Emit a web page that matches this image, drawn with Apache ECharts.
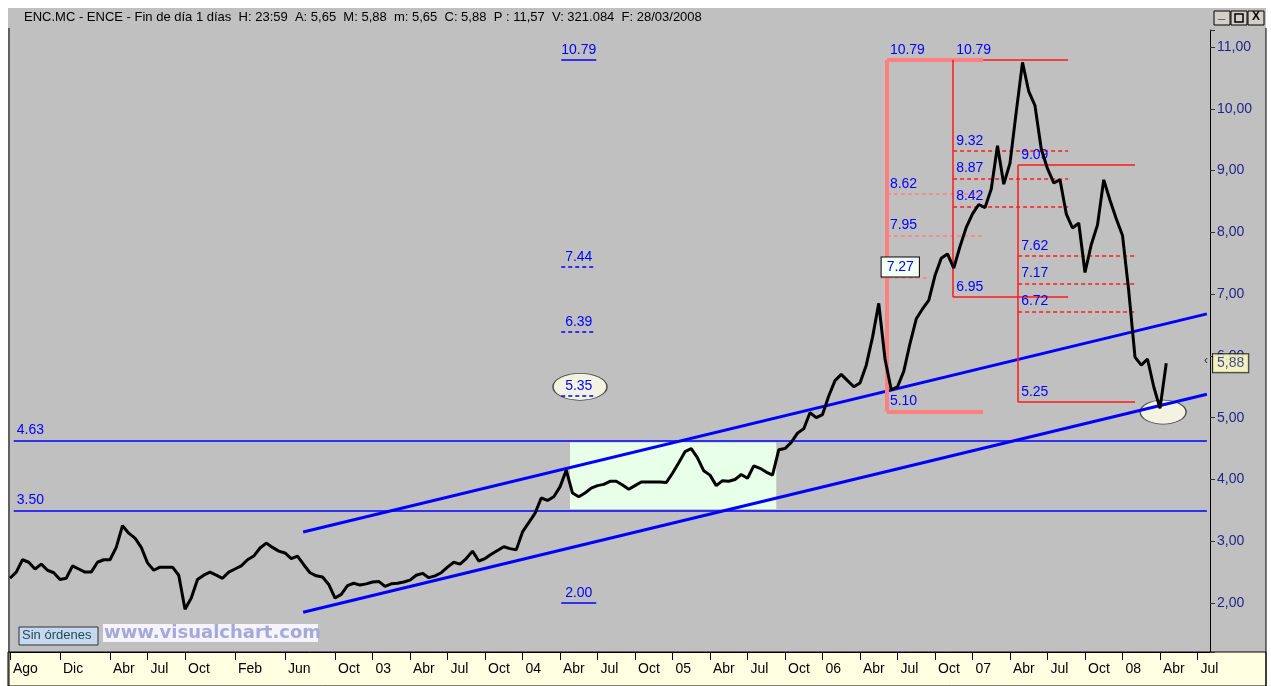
<!DOCTYPE html>
<html>
<head>
<meta charset="utf-8">
<script src="https://cdn.jsdelivr.net/npm/echarts@6/dist/echarts.min.js"></script>
<style>
  html, body { margin: 0; padding: 0; background: #ffffff; }
  #chart { width: 1271px; height: 686px; }
</style>
</head>
<body>
<div id="chart"></div>
<script>
// ENC.MC - cierres quincenales (Ago 2000 -> Mar 2008)
const closes = [
  2.40, 2.50, 2.70, 2.66, 2.55, 2.63, 2.53, 2.49, 2.38, 2.40,
  2.60, 2.55, 2.50, 2.50, 2.66, 2.70, 2.70, 2.90, 3.25, 3.13,
  3.05, 2.90, 2.65, 2.53, 2.58, 2.58, 2.58, 2.45, 1.90, 2.08,
  2.38, 2.45, 2.50, 2.45, 2.40, 2.50, 2.55, 2.60, 2.70, 2.76,
  2.89, 2.97, 2.90, 2.84, 2.81, 2.72, 2.76, 2.62, 2.49, 2.44,
  2.42, 2.30, 2.08, 2.14, 2.28, 2.32, 2.29, 2.31, 2.34, 2.35,
  2.27, 2.31, 2.32, 2.34, 2.37, 2.45, 2.48, 2.41, 2.44, 2.49,
  2.58, 2.66, 2.63, 2.72, 2.84, 2.68, 2.72, 2.79, 2.85, 2.91,
  2.88, 2.86, 3.15, 3.30, 3.45, 3.70, 3.66, 3.72, 3.88, 4.15,
  3.78, 3.72, 3.78, 3.86, 3.90, 3.92, 3.97, 3.97, 3.91, 3.84,
  3.90, 3.96, 3.96, 3.96, 3.96, 3.95, 4.10, 4.27, 4.45, 4.50,
  4.35, 4.14, 4.07, 3.90, 3.98, 3.97, 4.00, 4.08, 4.02, 4.22,
  4.18, 4.12, 4.07, 4.48, 4.50, 4.60, 4.75, 4.82, 5.08, 5.00,
  5.05, 5.35, 5.60, 5.70, 5.60, 5.50, 5.56, 5.85, 6.30, 6.85,
  5.95, 5.45, 5.50, 5.75, 6.20, 6.60, 6.76, 6.90, 7.30, 7.58,
  7.65, 7.42, 7.77, 8.08, 8.30, 8.45, 8.40, 8.70, 9.40, 8.78,
  9.12, 9.95, 10.75, 10.28, 10.05, 9.35, 9.03, 8.80, 8.85, 8.30,
  8.07, 8.15, 7.35, 7.80, 8.12, 8.85, 8.52, 8.22, 7.95, 7.05,
  5.98, 5.85, 5.95, 5.50, 5.15, 5.88
];
const lastClose = 5.88;

// meses del eje (Ago 2000 .. Ago 2008)
const months = [];
for (let k = 0; k <= 96; k++) {
  const m = 7 + k;
  months.push((2000 + Math.floor(m / 12)) + '-' + String(m % 12 + 1).padStart(2, '0'));
}
const tickMonths = ['2000-08', '2000-12', '2001-04', '2001-07', '2001-10', '2002-02', '2002-06', '2002-10',
  '2003-01', '2003-04', '2003-07', '2003-10', '2004-01', '2004-04', '2004-07', '2004-10',
  '2005-01', '2005-04', '2005-07', '2005-10', '2006-01', '2006-04', '2006-07', '2006-10',
  '2007-01', '2007-04', '2007-07', '2007-10', '2008-01', '2008-04', '2008-07'];
const tickNames = ['Ago', 'Dic', 'Abr', 'Jul', 'Oct', 'Feb', 'Jun', 'Oct',
  '03', 'Abr', 'Jul', 'Oct', '04', 'Abr', 'Jul', 'Oct',
  '05', 'Abr', 'Jul', 'Oct', '06', 'Abr', 'Jul', 'Oct',
  '07', 'Abr', 'Jul', 'Oct', '08', 'Abr', 'Jul'];

// niveles dibujados
const supportLevels = [4.63, 3.50];
const projLevels = [10.79, 7.44, 6.39, 5.35, 2.00];
const projDashed = [false, true, true, true, false];
const fib1 = [10.79, 8.62, 7.95, 7.27, 5.10];   // maximo, 38.2, 50, 61.8, minimo
const fib2 = [10.79, 9.32, 8.87, 8.42, 6.95];
const fib3 = [9.09, 7.62, 7.17, 6.72, 5.25];
const channelUp = [3.15, 6.68];
const channelDown = [1.85, 5.38];
const rangeBox = [3.52, 4.60];

// posiciones en quincenas (0 = Ago 2000)
const fullSpan = [0.6, 191.5];
const channelSpan = [46.9, 191.5];
const projSpan = [88.2, 93.8];
const fib1X = [140.3, 155.7, 147.2];
const fib2X = [150.9, 169.3];
const fib3X = [161.3, 180.0];
const boxSpan = [89.6, 122.6];

const BLUE = '#0000ff';
const RED = '#ff1a1a';
const PINK = '#ff8080';
const FONT = 'Arial, "Liberation Sans", sans-serif';

const tickSet = {};
tickMonths.forEach((m, i) => { tickSet[m] = tickNames[i]; });

function seg(x1, y1, x2, y2, style, label) {
  return [
    { coord: [x1, y1], lineStyle: style, label: label || { show: false } },
    { coord: [x2, y2] }
  ];
}
function lbl(text, extra) {
  return Object.assign({
    show: true, formatter: text, position: 'insideStartTop', distance: 3,
    color: BLUE, fontSize: 14, fontFamily: FONT
  }, extra || {});
}

const solidBlue = { color: BLUE, width: 1.5, type: 'solid' };
const dashBlue = { color: BLUE, width: 1.5, type: [4, 3] };
const thickBlue = { color: BLUE, width: 3, type: 'solid' };
const pinkThick = { color: PINK, width: 4, type: 'solid' };
const pinkDash = { color: '#ff8080', width: 1.5, type: [4, 3] };
const redLine = { color: RED, width: 1.5, type: 'solid' };
const redDash = { color: RED, width: 1.6, type: [4, 3] };

const lines = [];
// soportes horizontales
supportLevels.forEach(v => {
  lines.push(seg(fullSpan[0], v, fullSpan[1], v, solidBlue, lbl(v.toFixed(2))));
});
// canal alcista
lines.push(seg(channelSpan[0], channelUp[0], channelSpan[1], channelUp[1], thickBlue));
lines.push(seg(channelSpan[0], channelDown[0], channelSpan[1], channelDown[1], thickBlue));
// proyecciones centrales
projLevels.forEach((v, i) => {
  lines.push(seg(projSpan[0], v, projSpan[1], v, projDashed[i] ? dashBlue : solidBlue,
    lbl(v.toFixed(2), { position: 'insideMiddleTop' })));
});
// fibonacci 1 (rosa)
lines.push(seg(fib1X[0], fib1[0], fib1X[0], fib1[4], pinkThick));
lines.push(seg(fib1X[0], fib1[0], fib1X[1], fib1[0], pinkThick, lbl(fib1[0].toFixed(2))));
lines.push(seg(fib1X[1], fib1[0], fib2X[1], fib1[0], redLine));
lines.push(seg(fib1X[0], fib1[4], fib1X[1], fib1[4], pinkThick, lbl(fib1[4].toFixed(2))));
lines.push(seg(fib1X[0], fib1[1], fib1X[1], fib1[1], pinkDash, lbl(fib1[1].toFixed(2))));
lines.push(seg(fib1X[0], fib1[2], fib1X[1], fib1[2], pinkDash, lbl(fib1[2].toFixed(2))));
lines.push(seg(fib1X[0] - 1, fib1[3], fib1X[2], fib1[3], pinkDash,
  lbl(fib1[3].toFixed(2), { backgroundColor: '#f2fff2', borderColor: '#000', borderWidth: 1, padding: [3, 5, 2, 5], distance: 1 })));
// fibonacci 2
lines.push(seg(fib2X[0], fib2[0], fib2X[0], fib2[4], redLine));
lines.push(seg(fib2X[0], fib2[0], fib2X[1], fib2[0], { color: RED, width: 0 }, lbl(fib2[0].toFixed(2))));
lines.push(seg(fib2X[0], fib2[4], fib2X[1], fib2[4], redLine, lbl(fib2[4].toFixed(2))));
[1, 2, 3].forEach(k => {
  lines.push(seg(fib2X[0], fib2[k], fib2X[1], fib2[k], redDash, lbl(fib2[k].toFixed(2))));
});
// fibonacci 3
lines.push(seg(fib3X[0], fib3[0], fib3X[0], fib3[4], redLine));
lines.push(seg(fib3X[0], fib3[0], fib3X[1], fib3[0], redLine, lbl(fib3[0].toFixed(2))));
lines.push(seg(fib3X[0], fib3[4], fib3X[1], fib3[4], redLine, lbl(fib3[4].toFixed(2))));
[1, 2, 3].forEach(k => {
  lines.push(seg(fib3X[0], fib3[k], fib3X[1], fib3[k], redDash, lbl(fib3[k].toFixed(2))));
});

const titleRich = '{k|ENC.MC - ENCE - Fin de día 1 días  H: }{v|23:59}{k|  A: }{v|5,65}{k|  M: }{v|5,88}' +
  '{k|  m: }{v|5,65}{k|  C: }{v|5,88}{k|  }{r|P : 11,57}{k|  V: }{v|321.084}{k|  F: }{v|28/03/2008}';

const chart = echarts.init(document.getElementById('chart'));
const option = {
  animation: false,
  backgroundColor: '#ffffff',
  grid: { left: 10, right: 61, top: 30, bottom: 34, containLabel: false },
  xAxis: [
    {
      type: 'category',
      data: months,
      boundaryGap: false,
      axisLine: { show: true, lineStyle: { color: '#000', width: 1 } },
      axisTick: { show: true, length: 8, lineStyle: { color: '#000' }, interval: (i, v) => !!tickSet[v] },
      axisLabel: {
        show: true, interval: (i, v) => !!tickSet[v], formatter: v => tickSet[v] || '',
        align: 'left', padding: [0, 0, 0, 3], margin: 10, color: '#000', fontSize: 14, fontFamily: FONT
      },
      splitLine: { show: false }
    },
    { type: 'value', min: 0, max: 192, show: false }
  ],
  yAxis: {
    type: 'value',
    position: 'right',
    min: 1.207,
    max: 11.275,
    splitNumber: 10,
    axisLine: { show: true, onZero: false, lineStyle: { color: '#000', width: 1 } },
    axisTick: { show: true, length: 5, lineStyle: { color: '#333' } },
    axisLabel: {
      color: '#24248c', fontSize: 14, fontFamily: FONT, margin: 7,
      formatter: v => Math.abs(v - Math.round(v)) < 1e-6 ? v.toFixed(2).replace('.', ',') : ''
    },
    splitLine: { show: false }
  },
  graphic: [
    { type: 'rect', z: -10, shape: { x: 8, y: 28, width: 1258, height: 626 }, style: { fill: '#c0c0c0' } },
    { type: 'rect', z: -10, shape: { x: 8, y: 652, width: 1258, height: 34 }, style: { fill: '#ffffe1', stroke: '#000', lineWidth: 1 } },
    { type: 'rect', z: -10, shape: { x: 8, y: 8, width: 1258, height: 20 }, style: { fill: '#c0c0c0' } },
    { type: 'line', z: -5, shape: { x1: 9, y1: 28, x2: 9, y2: 686 }, style: { stroke: '#000', lineWidth: 1 } },
    { type: 'line', z: -5, shape: { x1: 1266, y1: 28, x2: 1266, y2: 686 }, style: { stroke: '#000', lineWidth: 1 } },
    {
      type: 'text', left: 24, top: 11, z: 10,
      style: {
        text: titleRich, fontSize: 13, fontFamily: FONT,
        rich: {
          k: { color: '#000', fontSize: 13, fontFamily: FONT },
          v: { color: '#1a1a99', fontSize: 13, fontFamily: FONT },
          r: { color: '#ff0000', fontSize: 13, fontFamily: FONT }
        }
      }
    },
    { type: 'rect', z: 10, shape: { x: 1214, y: 11, width: 16, height: 14 }, style: { fill: '#d4d0c8', stroke: '#000' } },
    { type: 'rect', z: 10, shape: { x: 1231, y: 11, width: 16, height: 14 }, style: { fill: '#d4d0c8', stroke: '#000' } },
    { type: 'rect', z: 10, shape: { x: 1248, y: 11, width: 16, height: 14 }, style: { fill: '#d4d0c8', stroke: '#000' } },
    { type: 'text', z: 11, left: 1218, top: 8, style: { text: '_', fontSize: 13, fontWeight: 'bold', fill: '#000', fontFamily: FONT } },
    { type: 'rect', z: 11, shape: { x: 1235, y: 14, width: 8, height: 8 }, style: { fill: 'none', stroke: '#000', lineWidth: 1.5 } },
    { type: 'text', z: 11, left: 1252, top: 11, style: { text: 'X', fontSize: 12, fontWeight: 'bold', fill: '#000', fontFamily: FONT } },
    { type: 'rect', z: 10, shape: { x: 19, y: 627, width: 79, height: 18 }, style: { fill: '#c6d8ee', stroke: '#333', lineWidth: 1 } },
    { type: 'text', z: 11, left: 22, top: 629, style: { text: 'Sin órdenes', fontSize: 13, fill: '#1f4a5c', fontFamily: FONT } },
    { type: 'rect', z: 10, shape: { x: 103, y: 624, width: 215, height: 18 }, style: { fill: '#f4f4fa' } },
    { type: 'text', z: 11, left: 104, top: 624, style: { text: 'www.visualchart.com', fontSize: 18, fontWeight: 'bold', fill: '#a6a8dc', fontFamily: 'Verdana, "DejaVu Sans", sans-serif' } },
    { type: 'text', z: 11, left: 1204, top: 355, style: { text: '‹', fontSize: 12, fill: '#333', fontFamily: FONT } }
  ],
  series: [
    {
      name: 'zona',
      type: 'line',
      xAxisIndex: 1,
      data: [],
      z: 1,
      silent: true,
      markArea: {
        silent: true,
        itemStyle: { color: '#e8ffe8', opacity: 1 },
        data: [[{ coord: [boxSpan[0], rangeBox[0]] }, { coord: [boxSpan[1], rangeBox[1]] }]]
      }
    },
    {
      name: 'elipses',
      type: 'scatter',
      xAxisIndex: 1,
      z: 2,
      silent: true,
      symbol: 'circle',
      itemStyle: { color: '#ffffea', borderColor: '#222', borderWidth: 1 },
      data: [
        { value: [91.2, 5.50], symbolSize: [54, 27] },
        { value: [184.5, 5.09], symbolSize: [46, 24] }
      ]
    },
    {
      name: 'trazos',
      type: 'line',
      xAxisIndex: 1,
      data: [],
      z: 3,
      silent: true,
      markLine: {
        silent: true,
        symbol: ['none', 'none'],
        animation: false,
        data: lines
      }
    },
    {
      name: 'ENC.MC',
      type: 'line',
      xAxisIndex: 1,
      z: 5,
      symbol: 'none',
      silent: true,
      lineStyle: { color: '#000', width: 3 },
      data: closes.map((v, i) => [i, v])
    },
    {
      name: 'ultimo',
      type: 'scatter',
      xAxisIndex: 1,
      z: 10,
      symbolSize: 0,
      silent: true,
      data: [[192, lastClose]],
      label: {
        show: true, position: 'right', distance: 3,
        formatter: lastClose.toFixed(2).replace('.', ','),
        backgroundColor: '#ffffc0', borderColor: '#000', borderWidth: 1,
        padding: [3, 4, 1, 4], color: '#1a1a80', fontSize: 14, fontFamily: FONT
      }
    }
  ]
};
chart.setOption(option);
</script>
</body>
</html>
